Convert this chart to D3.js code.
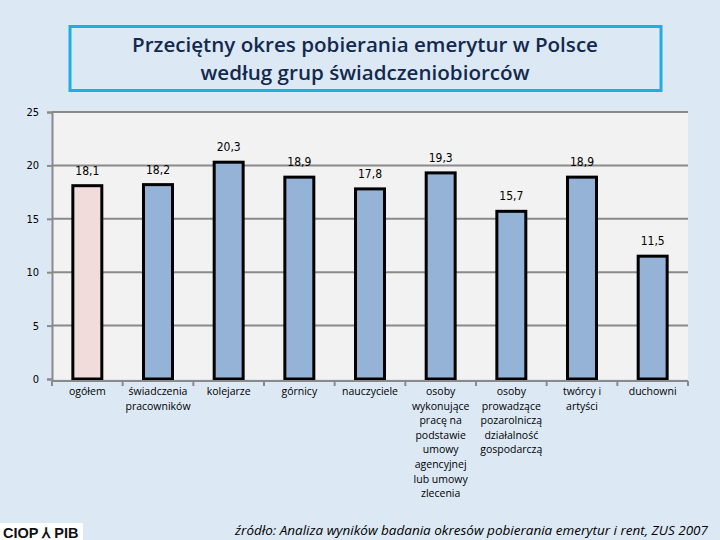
<!DOCTYPE html>
<html><head><meta charset="utf-8">
<script src="https://cdn.jsdelivr.net/npm/d3@7"></script>
<style>
html,body{margin:0;padding:0;background:#dce9f5;}
svg{display:block;}
</style></head>
<body>
<svg id="c" width="720" height="540"></svg>
<script>
const categories = [
  ["ogółem"],
  ["świadczenia","pracowników"],
  ["kolejarze"],
  ["górnicy"],
  ["nauczyciele"],
  ["osoby","wykonujące","pracę na","podstawie","umowy","agencyjnej","lub umowy","zlecenia"],
  ["osoby","prowadzące","pozarolniczą","działalność","gospodarczą"],
  ["twórcy i","artyści"],
  ["duchowni"]
];
const values = [18.1, 18.2, 20.3, 18.9, 17.8, 19.3, 15.7, 18.9, 11.5];
const valueLabels = ["18,1","18,2","20,3","18,9","17,8","19,3","15,7","18,9","11,5"];
const yTicks = [0, 5, 10, 15, 20, 25];
const titleLines = ["Przeciętny okres pobierania emerytur w Polsce", "według grup świadczeniobiorców"];
const sourceText = "źródło: Analiza wyników badania okresów pobierania emerytur i rent, ZUS 2007";

const svg = d3.select("#c");
svg.append("rect").attr("width",720).attr("height",540).attr("fill","#dce9f5");

// title box
svg.append("rect").attr("x",70).attr("y",26.5).attr("width",591).attr("height",64)
  .attr("fill","#dce9f5").attr("stroke","#1eaee0").attr("stroke-width",3);
svg.append("g").selectAll("text").data(titleLines).join("text")
  .attr("x",365).attr("y",(d,i)=>52+i*28)
  .attr("text-anchor","middle")
  .attr("font-family","'Open Sans', sans-serif").attr("font-weight","600")
  .attr("font-size",20.6).attr("fill","#13294f").text(d=>d);

const L=52, R=688, T=112, B=379;
const x = d3.scaleBand().domain(d3.range(values.length)).range([L,R]).paddingInner(0.59).paddingOuter(0.295);
const y = d3.scaleLinear().domain([0,25]).range([B,T]);

svg.append("rect").attr("x",L).attr("y",T).attr("width",R-L).attr("height",B-T).attr("fill","#f2f2f2");

// gridlines
svg.append("g").selectAll("line").data(yTicks.filter(d=>d>0)).join("line")
  .attr("x1",L).attr("x2",R).attr("y1",d=>y(d)).attr("y2",d=>y(d))
  .attr("stroke","#8a8a8a").attr("stroke-width",2);

// y axis
const ya = svg.append("g").attr("transform",`translate(${L},0)`)
  .call(d3.axisLeft(y).tickValues(yTicks).tickSize(5).tickPadding(8).tickFormat(d3.format("d")));
ya.select(".domain").attr("stroke","#8a8a8a").attr("stroke-width",2);
ya.selectAll(".tick line").attr("stroke","#8a8a8a").attr("stroke-width",2);
ya.selectAll("text").attr("font-family","'DejaVu Sans Condensed', 'DejaVu Sans', sans-serif")
  .attr("font-size",11).attr("fill","#000");

// bars
svg.append("g").selectAll("rect").data(values).join("rect")
  .attr("x",(d,i)=>x(i)).attr("width",x.bandwidth())
  .attr("y",d=>y(d)).attr("height",d=>B-y(d))
  .attr("fill",(d,i)=>i===0?"#f2dcdb":"#95b3d7")
  .attr("stroke","#000").attr("stroke-width",3);

// value labels
svg.append("g").selectAll("text").data(values).join("text")
  .attr("x",(d,i)=>x(i)+x.bandwidth()/2).attr("y",d=>y(d)-11)
  .attr("text-anchor","middle")
  .attr("font-family","'DejaVu Sans Condensed', 'DejaVu Sans', sans-serif")
  .attr("font-size",12).attr("fill","#000").text((d,i)=>valueLabels[i]);

// x axis
svg.append("line").attr("x1",L).attr("x2",R).attr("y1",B+2).attr("y2",B+2)
  .attr("stroke","#8a8a8a").attr("stroke-width",2);
svg.append("g").selectAll("line").data(d3.range(values.length+1)).join("line")
  .attr("x1",i=>L+i*(R-L)/values.length).attr("x2",i=>L+i*(R-L)/values.length)
  .attr("y1",B+2).attr("y2",B+7).attr("stroke","#8a8a8a").attr("stroke-width",2);

const cl = svg.append("g").selectAll("text").data(categories).join("text")
  .attr("text-anchor","middle")
  .attr("font-family","'Open Sans', sans-serif")
  .attr("font-size",10.5).attr("fill","#000");
cl.each(function(lines,i){
  const t=d3.select(this);
  lines.forEach((ln,j)=>{
    t.append("tspan").attr("x",x(i)+x.bandwidth()/2).attr("y",395+j*14.6).text(ln);
  });
});

// logo
svg.append("rect").attr("x",0).attr("y",523).attr("width",83).attr("height",17).attr("fill","#fff");
svg.append("text").attr("x",3).attr("y",538)
  .attr("font-family","'Liberation Sans', Arial, sans-serif").attr("font-weight","bold")
  .attr("font-size",14.5).attr("fill","#111").text("CIOP ⅄ PIB");

// source
svg.append("text").attr("x",708).attr("y",535).attr("text-anchor","end")
  .attr("font-family","'Open Sans', sans-serif").attr("font-style","italic")
  .attr("font-size",13.5).attr("fill","#000").text(sourceText);
</script>
</body></html>
